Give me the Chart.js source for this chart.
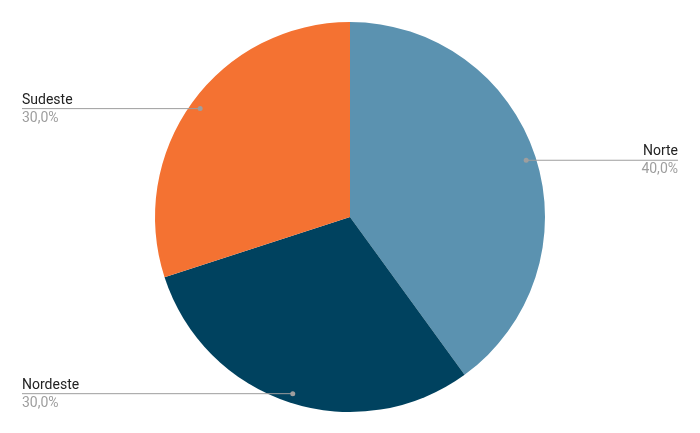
<!DOCTYPE html>
<html>
  <head>
    <title>Distribuição por Região</title>
    <script src="https://cdn.jsdelivr.net/npm/chart.js"></script>
    <style>
      body {
        margin: 0;
        background: #fff;
      }
    </style>
  </head>
  <body>
    <canvas id="pieChart" width="700" height="433"></canvas>

    <script>
      const regioes = ['Norte', 'Nordeste', 'Sudeste'];
      const valores = [40, 30, 30];
      const cores = ['#5b92b0', '#00425f', '#f47232'];

      // linhas de chamada com nome e percentual, estilo Google Sheets
      const leaderLines = {
        id: 'leaderLines',
        afterDatasetsDraw(chart) {
          const ctx = chart.ctx;
          const meta = chart.getDatasetMeta(0);
          const total = valores.reduce((a, b) => a + b, 0);

          meta.data.forEach((arc, i) => {
            const mid = (arc.startAngle + arc.endAngle) / 2;
            const r = arc.outerRadius * 0.95;
            const px = arc.x + Math.cos(mid) * r;
            const py = arc.y + Math.sin(mid) * r;
            const right = Math.cos(mid) >= 0;
            const edge = right ? chart.width - 22 : 22;

            ctx.save();
            ctx.strokeStyle = '#9e9e9e';
            ctx.lineWidth = 1;
            ctx.beginPath();
            ctx.moveTo(px, py + 0.5);
            ctx.lineTo(edge, py + 0.5);
            ctx.stroke();

            ctx.fillStyle = '#9e9e9e';
            ctx.beginPath();
            ctx.arc(px, py + 0.5, 2.5, 0, Math.PI * 2);
            ctx.fill();

            ctx.textAlign = right ? 'right' : 'left';
            ctx.font = '14px Roboto, "Liberation Sans", sans-serif';
            ctx.fillStyle = '#222';
            ctx.textBaseline = 'bottom';
            ctx.fillText(regioes[i], edge, py - 1);

            const pct = ((valores[i] / total) * 100).toFixed(1).replace('.', ',') + '%';
            ctx.fillStyle = '#9e9e9e';
            ctx.textBaseline = 'top';
            ctx.fillText(pct, edge, py + 3);
            ctx.restore();
          });
        },
      };

      const chart = new Chart(document.getElementById('pieChart'), {
        type: 'pie',
        data: {
          labels: regioes,
          datasets: [
            {
              data: valores,
              backgroundColor: cores,
              borderWidth: 0,
            },
          ],
        },
        options: {
          responsive: false,
          animation: false,
          layout: {
            padding: { top: 22, bottom: 21 },
          },
          plugins: {
            legend: { display: false },
            tooltip: { enabled: false },
          },
        },
        plugins: [leaderLines],
      });
    </script>
  </body>
</html>
